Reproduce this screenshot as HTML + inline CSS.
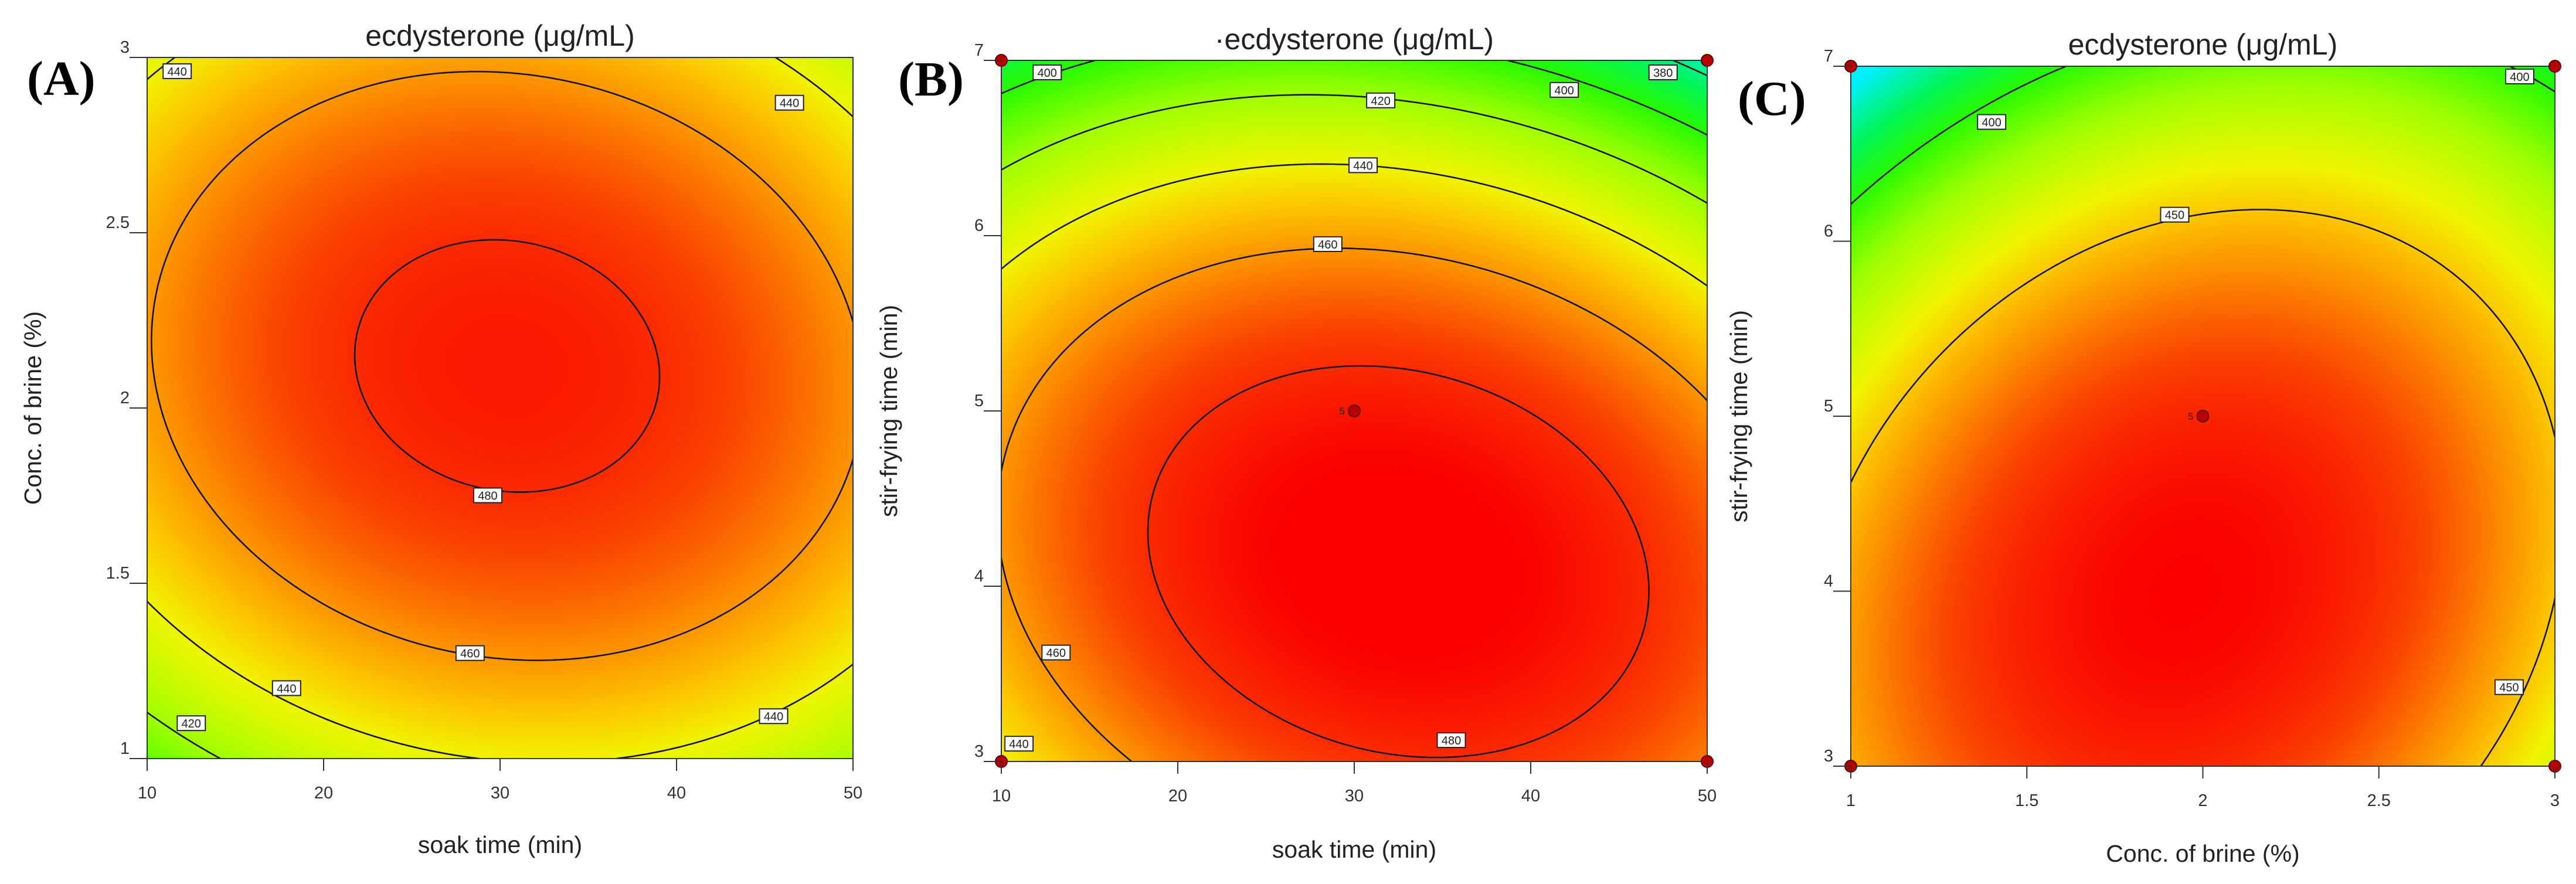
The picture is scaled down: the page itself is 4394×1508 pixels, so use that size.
<!DOCTYPE html>
<html><head><meta charset="utf-8">
<style>
html,body{margin:0;padding:0;background:#fff;}
body{width:4394px;height:1508px;position:relative;overflow:hidden;font-family:"Liberation Sans","DejaVu Sans",sans-serif;}
canvas{position:absolute;}
svg{position:absolute;left:0;top:0;}
</style></head>
<body>
<canvas id="cA"></canvas>
<canvas id="cB"></canvas>
<canvas id="cC"></canvas>
<svg id="ov" width="4394" height="1508"></svg>
<script>
// ----- data -----
// model: [max, x0, y0, a, b, c]  f = M - a(dx)^2 - b(dy)^2 - c dx dy  (coded units)
const modelA = [484.5, 0.02, 0.12, 24.3, 35, 5];
const modelB = [492.8, 0.125, -0.43, 26, 42, 10];
const modelC = [490, -0.05, -0.5, 36, 35, -14];
const levelsA = [420, 440, 460, 480];
const levelsB = [380, 400, 420, 440, 460, 480];
const levelsC = [400, 450];
const xTicksA = [10, 20, 30, 40, 50];
const yTicksA = [1, 1.5, 2, 2.5, 3];
const xTicksB = [10, 20, 30, 40, 50];
const yTicksB = [3, 4, 5, 6, 7];
const xTicksC = [1, 1.5, 2, 2.5, 3];
const yTicksC = [3, 4, 5, 6, 7];
const labelsA_x = [11.7, 46.4, 29.3, 28.3, 17.9, 12.5, 45.5];
const labelsA_y = [2.96, 2.87, 1.75, 1.3, 1.2, 1.1, 1.12];
const labelsA_t = ["440", "440", "480", "460", "440", "420", "440"];
const labelsB_x = [12.6, 31.5, 30.5, 28.5, 41.9, 47.5, 35.5, 13.1, 11.0];
const labelsB_y = [6.93, 6.77, 6.4, 5.95, 6.83, 6.93, 3.12, 3.62, 3.1];
const labelsB_t = ["400", "420", "440", "460", "400", "380", "480", "460", "440"];
const labelsC_x = [1.4, 1.92, 2.9, 2.87];
const labelsC_y = [6.68, 6.15, 6.94, 3.45];
const labelsC_t = ["400", "450", "400", "450"];
const ptsB_x = [10, 10, 50, 50, 30];
const ptsB_y = [3, 7, 3, 7, 5];
const ptsC_x = [1, 1, 3, 3, 2];
const ptsC_y = [3, 7, 3, 7, 5];
// colour map stops (value -> rgb)
const cmapV = [365, 385, 400, 420, 440, 450, 462, 476, 490];
const cmapC = [[0,240,255],[0,245,90],[40,250,0],[160,255,0],[240,245,0],[252,200,0],[252,140,0],[250,60,0],[250,0,0]];

const NS = "http://www.w3.org/2000/svg";
const ov = document.getElementById('ov');
function el(tag, attrs, parent){const e=document.createElementNS(NS,tag);for(const k in attrs)e.setAttribute(k,attrs[k]);(parent||ov).appendChild(e);return e;}
function cmap(v){
  if(v<=cmapV[0])return cmapC[0];
  for(let i=1;i<cmapV.length;i++){if(v<=cmapV[i]){const t=(v-cmapV[i-1])/(cmapV[i]-cmapV[i-1]);const a=cmapC[i-1],b=cmapC[i];return [a[0]+(b[0]-a[0])*t,a[1]+(b[1]-a[1])*t,a[2]+(b[2]-a[2])*t];}}
  return cmapC[cmapC.length-1];
}

function panel(cfg){
  const {id,L,T,R,B,xmin,xmax,ymin,ymax,model,levels,xt,yt,lx,ly,lt,px,py,xTitle,yTitle,title,titleY,tag,tagX,tagY,xTitleY,yTitleX,xfmt} = cfg;
  const W=R-L,H=B-T;
  const sx=v=>L+(v-xmin)/(xmax-xmin)*W;
  const sy=v=>B-(v-ymin)/(ymax-ymin)*H;
  const f=(x,y)=>{const cx=(x-(xmin+xmax)/2)/((xmax-xmin)/2)-model[1];const cy=(y-(ymin+ymax)/2)/((ymax-ymin)/2)-model[2];return model[0]-model[3]*cx*cx-model[4]*cy*cy-model[5]*cx*cy;};
  const cv=document.getElementById(id);cv.width=W;cv.height=H;cv.style.left=L+'px';cv.style.top=T+'px';
  const ctx=cv.getContext('2d');const img=ctx.createImageData(W,H);
  for(let j=0;j<H;j++){const y=ymax-(j+0.5)/H*(ymax-ymin);for(let i=0;i<W;i++){const x=xmin+(i+0.5)/W*(xmax-xmin);const c=cmap(f(x,y));const k=(j*W+i)*4;img.data[k]=c[0];img.data[k+1]=c[1];img.data[k+2]=c[2];img.data[k+3]=255;}}
  ctx.putImageData(img,0,0);
  const g=el('g',{});
  
  
  const N=240;
  const gv=[];for(let j=0;j<=N;j++){gv.push([]);for(let i=0;i<=N;i++){gv[j].push(f(xmin+i/N*(xmax-xmin),ymin+j/N*(ymax-ymin)));}}
  levels.forEach(lv=>{
    let d='';
    for(let j=0;j<N;j++)for(let i=0;i<N;i++){
      const v=[gv[j][i],gv[j][i+1],gv[j+1][i+1],gv[j+1][i]];
      const p=[[i,j],[i+1,j],[i+1,j+1],[i,j+1]];
      const pts=[];
      for(let e=0;e<4;e++){const a=v[e],b=v[(e+1)%4];if((a-lv)*(b-lv)<0){const t=(lv-a)/(b-a);const pa=p[e],pb=p[(e+1)%4];pts.push([pa[0]+(pb[0]-pa[0])*t,pa[1]+(pb[1]-pa[1])*t]);}}
      for(let k=0;k+1<pts.length;k+=2){
        const X=q=>sx(xmin+q[0]/N*(xmax-xmin)).toFixed(1),Y=q=>sy(ymin+q[1]/N*(ymax-ymin)).toFixed(1);
        d+='M'+X(pts[k])+' '+Y(pts[k])+'L'+X(pts[k+1])+' '+Y(pts[k+1]);
      }
    }
    const path=el('path',{d:d,stroke:'#111',"stroke-width":2.6,fill:'none'},g);
    
    
  });
  const fr=el('rect',{x:L,y:T,width:W,height:H,fill:'none',stroke:'#333','stroke-width':2},g);
  
  
  lx.forEach((x,i)=>{
    const cxp=sx(x),cyp=sy(ly[i]);
    const r=el('rect',{x:cxp-24,y:cyp-13,width:48,height:25,fill:'#fff',stroke:'#222','stroke-width':2},g);
    
    
    const t=el('text',{x:cxp,y:cyp+7,'font-size':20,'text-anchor':'middle',fill:'#222'},g);
    t.textContent=lt[i];
    
    
  });
  px.forEach((x,i)=>{
    const c=el('circle',{cx:sx(x),cy:sy(py[i]),r:10,fill:'#b80000',stroke:'#5a0000','stroke-width':2},g);
    
    
    if(i===px.length-1){
      const t=el('text',{x:sx(x)-16,y:sy(py[i])+6,'font-size':17,'text-anchor':'end',fill:'#222'},g);
      t.textContent='5';
      
      
    }
  });
  xt.forEach(v=>{
    const ln=el('line',{x1:sx(v),x2:sx(v),y1:B,y2:B+21,stroke:'#333','stroke-width':2},g);
    
    
    const t=el('text',{x:sx(v),y:B+68,'font-size':29,'text-anchor':'middle',fill:'#333'},g);
    t.textContent=xfmt(v);
    
    
  });
  yt.forEach(v=>{
    const ln=el('line',{x1:L-30,x2:L,y1:sy(v),y2:sy(v),stroke:'#333','stroke-width':2},g);
    
    
    const t=el('text',{x:L-30,y:sy(v)-8,'font-size':29,'text-anchor':'end',fill:'#333'},g);
    t.textContent=String(v);
    
    
  });
  const tt=el('text',{x:(L+R)/2,y:titleY,'font-size':50,'text-anchor':'middle',fill:'#222'},g);
  tt.textContent=title;
  
  
  const xtt=el('text',{x:(L+R)/2,y:xTitleY,'font-size':41,'text-anchor':'middle',fill:'#222'},g);
  xtt.textContent=xTitle;
  
  
  const ym=(T+B)/2;
  const ytt=el('text',{x:yTitleX,y:ym,'font-size':41,'text-anchor':'middle',fill:'#222',transform:'rotate(-90 '+yTitleX+' '+ym+')'},g);
  ytt.textContent=yTitle;
  
  
  const tg=el('text',{x:tagX,y:tagY,'font-size':84,'font-weight':'bold','font-family':'"Liberation Serif",serif',fill:'#000'},g);
  tg.textContent=tag;
  
  
}

panel({name:'panel-a',id:'cA',L:251,T:98,R:1455,B:1294,xmin:10,xmax:50,ymin:1,ymax:3,model:modelA,levels:levelsA,xt:xTicksA,yt:yTicksA,lx:labelsA_x,ly:labelsA_y,lt:labelsA_t,px:[],py:[],
  xTitle:'soak time (min)',yTitle:'Conc. of brine (%)',title:'ecdysterone (μg/mL)',titleY:78,tag:'(A)',tagX:46,tagY:162,xTitleY:1455,yTitleX:70,xfmt:v=>String(v)});
panel({name:'panel-b',id:'cB',L:1708,T:103,R:2912,B:1299,xmin:10,xmax:50,ymin:3,ymax:7,model:modelB,levels:levelsB,xt:xTicksB,yt:yTicksB,lx:labelsB_x,ly:labelsB_y,lt:labelsB_t,px:ptsB_x,py:ptsB_y,
  xTitle:'soak time (min)',yTitle:'stir-frying time (min)',title:'·ecdysterone (μg/mL)',titleY:84,tag:'(B)',tagX:1532,tagY:163,xTitleY:1463,yTitleX:1530,xfmt:v=>String(v)});
panel({name:'panel-c',id:'cC',L:3157,T:113,R:4358,B:1307,xmin:1,xmax:3,ymin:3,ymax:7,model:modelC,levels:levelsC,xt:xTicksC,yt:yTicksC,lx:labelsC_x,ly:labelsC_y,lt:labelsC_t,px:ptsC_x,py:ptsC_y,
  xTitle:'Conc. of brine (%)',yTitle:'stir-frying time (min)',title:'ecdysterone (μg/mL)',titleY:93,tag:'(C)',tagX:2964,tagY:196,xTitleY:1470,yTitleX:2980,xfmt:v=>String(v)});
</script>
</body></html>
